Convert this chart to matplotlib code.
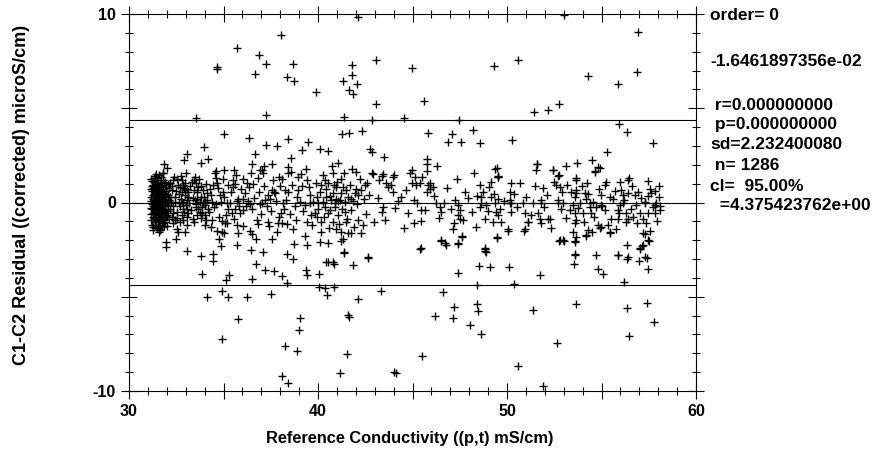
import matplotlib
matplotlib.use("Agg")
import matplotlib.pyplot as plt
from matplotlib.ticker import MultipleLocator, FuncFormatter

# ---------------- data ----------------
# dense cluster near 31-32 mS/cm
cluster_pts = [
    (31.20, 0.85), (31.25, 0.40), (31.22, -0.10), (31.28, -0.55), (31.18, -0.95), (31.30, 1.10),
    (31.35, 0.65), (31.33, 0.15), (31.38, -0.30), (31.32, -0.80), (31.40, -1.20), (31.42, 0.95),
    (31.45, 0.30), (31.48, -0.05), (31.44, -0.65), (31.50, 1.30), (31.52, 0.55), (31.55, 0.05),
    (31.58, -0.40), (31.53, -1.00), (31.60, 0.80), (31.62, 0.20), (31.65, -0.25), (31.63, -0.75),
    (31.68, 1.05), (31.70, 0.45), (31.72, -0.15), (31.75, -0.55), (31.78, -1.10), (31.80, 0.70),
    (31.82, 0.10), (31.85, -0.35), (31.88, 0.95), (31.90, 0.35), (31.92, -0.20), (31.95, -0.70),
    (31.98, 0.60), (32.02, 0.00), (32.05, -0.45), (31.24, 0.60), (31.27, 0.20), (31.21, -0.35),
    (31.26, -0.75), (31.36, 0.90), (31.31, 0.45), (31.37, 0.00), (31.34, -0.55), (31.39, -0.95),
    (31.46, 0.70), (31.43, 0.10), (31.47, -0.25), (31.41, -0.85), (31.56, 1.00), (31.54, 0.35),
    (31.57, -0.20), (31.51, -0.60), (31.59, -1.25), (31.66, 0.60), (31.61, 0.00), (31.67, -0.45),
    (31.64, -1.00), (31.74, 0.85), (31.71, 0.25), (31.77, -0.30), (31.73, -0.85), (31.84, 0.50),
    (31.81, -0.05), (31.87, -0.50), (31.83, -0.95), (31.94, 0.15), (31.91, -0.40), (31.97, 0.80),
    (32.08, 0.40), (32.06, -0.15), (31.19, 0.10), (31.23, 1.15), (31.29, -1.30), (31.49, -1.35),
    (31.69, 1.35), (31.79, 1.20), (31.58, 1.45), (31.38, 1.40), (31.85, -1.25), (31.62, -1.45),
    (31.16, 0.30), (31.17, -0.60), (31.30, 0.05), (31.50, 0.15), (31.60, -0.10), (31.70, 0.05),
    (31.40, 0.50), (31.45, -0.45), (31.55, 0.70), (31.75, 0.30), (31.65, 0.35), (31.35, -0.15),
    (31.18, 1.25), (31.21, -1.20), (31.26, 0.95), (31.29, -0.20), (31.33, 1.30), (31.36, -1.05),
    (31.39, 0.35), (31.43, -0.50), (31.47, 1.10), (31.52, -0.30), (31.57, 0.45), (31.61, -0.80),
    (31.66, 0.95), (31.69, -0.60), (31.73, 0.55), (31.77, -1.30), (31.81, 0.35), (31.86, -0.75),
    (31.89, 1.10), (31.93, -1.05), (31.96, 0.45), (32.00, -0.65), (32.04, 1.00), (32.10, -0.90),
    (31.28, 0.75), (31.48, 0.85), (31.68, -0.20), (31.88, 0.20), (31.58, -1.55), (31.78, 1.55),
    (31.25, -1.45), (31.44, 1.50), (31.15, -0.30), (31.15, 0.70), (32.12, 0.15), (32.09, 0.75),
    (31.99, -1.25), (31.54, -0.85), (31.64, 0.70), (31.74, -0.05),
]

# central band, 32-40 mS/cm
band_low_pts = [
    (32.40, 1.36), (32.52, 1.27), (33.49, 1.36), (33.46, 1.22), (32.96, 1.01), (34.55, 1.57),
    (34.64, 1.04), (35.49, 1.18), (35.61, 0.97), (35.52, 0.83), (36.05, 1.27), (36.46, 1.54),
    (36.84, 1.31), (37.13, 0.87), (36.26, 1.01), (36.58, 0.96), (36.93, 1.72), (37.07, 1.57),
    (37.94, 1.36), (38.08, 1.27), (38.43, 1.54), (38.56, 1.63), (38.96, 1.36), (39.08, 1.49),
    (39.44, 1.22), (37.55, 0.65), (37.73, 0.48), (38.26, 0.65), (38.43, 0.57), (38.96, 0.65),
    (38.91, 0.27), (39.58, 0.39), (39.93, 0.30), (39.31, -0.12), (39.58, -0.04), (36.93, -0.09),
    (37.02, 0.00), (37.20, 0.12), (37.46, 0.21), (37.67, 0.57), (34.99, 0.57), (34.82, 0.39),
    (34.34, 0.39), (34.46, 0.92), (35.17, 0.00), (35.70, 0.06), (35.79, 0.21), (36.05, 0.21),
    (36.14, 0.48), (36.28, 0.06), (36.40, -0.07), (35.61, -0.32), (35.87, -0.58), (36.05, -0.41),
    (35.43, -0.58), (35.26, -0.32), (34.78, -0.76), (34.90, -0.97), (35.08, -1.11), (34.68, -1.52),
    (34.90, -1.56), (35.03, -1.64), (35.17, -1.11), (35.73, -1.20), (35.79, -1.61), (36.40, -1.50),
    (36.49, -1.68), (36.76, -0.94), (36.84, -1.15), (37.37, -1.03), (37.41, -1.24), (37.55, -1.91),
    (37.90, -1.11), (38.08, -1.11), (38.34, -1.15), (38.70, -1.43), (38.04, -0.58), (37.94, -0.76),
    (38.22, -0.32), (39.40, -1.03), (39.67, -1.20), (39.93, -0.76), (39.84, -0.58), (40.02, -0.32),
    (39.31, -1.79), (33.46, -1.03), (34.02, -1.20), (33.58, -0.67), (34.38, -0.94), (34.20, -0.32),
    (32.35, -1.11), (32.52, -1.38), (32.61, -1.56), (32.96, -1.56), (33.85, -0.23), (34.02, 0.04),
    (33.81, 0.30), (33.58, 0.57), (33.93, 0.65), (33.67, 0.83), (34.11, 0.48), (33.76, -0.49),
    (34.02, -0.67), (33.53, -0.23), (33.49, 0.14), (33.93, -0.04), (32.79, 1.18), (32.88, 0.92),
    (33.05, 0.74), (32.79, 0.57), (32.96, 0.39), (32.75, 0.21), (33.05, 0.12), (32.88, -0.04),
    (32.70, -0.21), (33.05, -0.32), (32.93, -0.49), (32.79, -0.67), (33.05, -0.76), (32.88, -0.94),
    (33.14, -0.58), (32.96, 0.65), (33.14, 0.30), (32.70, 0.83), (32.17, 1.01), (32.26, 0.65),
    (32.44, 0.30), (32.22, 0.04), (32.35, -0.21), (32.52, -0.49), (32.26, -0.76), (32.44, -0.94),
    (32.17, 0.30), (32.35, 1.18), (31.55, -1.20), (31.64, -1.38), (31.47, 1.19), (31.82, 1.57),
    (32.15, -0.35), (32.28, 0.85), (32.33, -0.55), (32.41, 0.05), (32.48, 0.62), (32.55, -0.80),
    (32.58, 0.95), (32.63, -0.05), (32.66, 0.45), (32.72, -1.05), (32.76, 1.40), (32.82, 0.02),
    (32.85, -0.35), (32.91, 0.78), (32.99, -0.15), (33.02, 1.55), (33.09, -1.20), (33.12, 0.55),
    (33.18, -0.05), (33.22, 0.90), (33.27, -0.40), (33.31, 1.10), (33.36, 0.22), (33.40, -0.85),
    (33.44, 0.65), (33.52, -0.10), (33.55, 1.05), (33.62, 0.20), (33.66, -0.35), (33.71, 1.25),
    (33.74, 0.05), (33.79, -0.80), (33.83, 0.85), (33.88, -0.55), (33.96, 0.30), (34.00, -0.15),
    (34.06, 1.00), (34.09, -0.95), (34.15, 0.15), (34.25, -0.50), (34.29, 0.70), (34.36, -1.30),
    (34.41, 0.05), (34.50, -0.25), (34.58, 1.30), (34.62, -0.10), (34.71, 0.75), (34.75, -1.95),
    (34.86, 0.05), (34.95, 1.25), (35.05, 0.30), (35.12, -0.65), (35.22, 0.95), (35.35, -0.05),
    (35.40, 0.55), (35.55, -0.90), (35.66, 1.45), (35.83, -0.20), (35.95, 0.70), (36.02, -1.25),
    (36.18, -0.20), (36.33, 0.80), (36.52, -0.35), (36.62, 0.25), (36.70, -1.95), (36.88, 0.55),
    (37.00, -0.60), (37.15, 1.95), (37.28, -0.20), (37.33, 0.40), (37.50, -0.45), (37.62, 1.20),
    (37.80, 0.10), (37.85, -1.55), (38.00, 0.85), (38.15, -0.05), (38.30, 0.15), (38.50, -0.60),
    (38.62, 0.95), (38.80, -0.20), (38.85, -0.95), (39.05, 0.05), (39.15, 0.85), (39.22, -0.45),
    (39.50, 0.80), (39.62, -0.65), (39.75, 0.05), (39.88, 1.05),
]

# central band, 40-50 mS/cm
band_mid_pts = [
    (40.00, -0.04), (40.26, 0.04), (40.35, -0.23), (40.62, -0.41), (40.88, -0.04), (40.97, 0.21),
    (40.79, 0.48), (41.23, 0.48), (41.32, 0.83), (41.50, 0.65), (41.59, 0.30), (41.76, 0.21),
    (40.97, 0.83), (40.53, 1.01), (40.35, 1.18), (40.18, 0.92), (40.26, 1.45), (40.79, 1.54),
    (41.23, 1.27), (40.71, 0.12), (41.06, 0.06), (41.41, -0.49), (41.50, -1.03), (41.06, -0.67),
    (40.79, -1.03), (40.18, -1.03), (40.97, -1.38), (41.23, -1.56), (41.59, -1.64), (41.76, -1.61),
    (42.29, -1.64), (42.38, -1.20), (42.12, -0.94), (41.32, -1.91), (40.18, -1.56), (40.09, -2.09),
    (40.53, -0.58), (40.44, 0.30), (41.94, 0.48), (42.12, 0.39), (42.29, 0.65), (42.47, 0.92),
    (42.59, 1.04), (42.86, 1.57), (43.44, 1.49), (44.02, 1.45), (45.52, 1.36), (43.62, 1.01),
    (43.70, 0.83), (43.97, 0.57), (44.23, 0.06), (44.67, 0.65), (44.99, 1.01), (45.20, 0.92),
    (45.38, 1.04), (45.11, 1.36), (45.82, 0.92), (45.91, 0.74), (46.08, 0.80), (45.77, 0.57),
    (47.76, 0.57), (48.55, 0.95), (49.17, 1.10), (49.52, 1.41), (48.43, 0.35), (48.64, 0.30),
    (49.17, 0.30), (49.52, 0.21), (49.35, -0.04), (49.61, -0.32), (49.44, -0.49), (49.52, -0.67),
    (49.26, -1.03), (48.82, -0.85), (48.55, -0.23), (48.64, -0.04), (48.91, -0.14), (50.14, 0.57),
    (50.14, -0.04), (45.08, 0.14), (43.44, -0.23), (43.40, -0.49), (44.76, -0.58), (45.47, -0.41),
    (45.43, -0.97), (45.06, -1.11), (46.40, -0.80), (46.26, -0.04), (46.47, -0.23), (46.53, -0.49),
    (47.23, 0.12), (47.41, -0.12), (47.50, -0.41), (47.41, -0.67), (47.50, -0.85), (47.20, -1.11),
    (47.14, -1.43), (47.62, -1.79), (46.53, -1.99), (46.70, -2.17), (47.41, -2.17), (49.47, -1.82),
    (50.05, -1.43), (45.43, -2.42), (41.38, -2.60), (42.65, -2.88), (40.53, -3.13), (40.79, -3.13),
    (40.53, -2.17), (41.23, -2.03), (48.82, -2.44), (48.91, -2.62),
    (40.12, 0.55), (40.30, -0.75), (40.42, 0.70), (40.58, -1.35), (40.66, 0.35), (40.84, 0.95),
    (40.92, -0.25), (41.02, 1.10), (41.12, -1.15), (41.18, 0.15), (41.28, -0.35), (41.38, 1.55),
    (41.45, 0.05), (41.55, -0.85), (41.68, 0.95), (41.72, -0.40), (41.85, 0.10), (41.90, -1.30),
    (42.00, 0.70), (42.05, -0.10), (42.20, 1.25), (42.42, 0.20), (42.55, -0.60), (42.72, 0.40),
    (42.95, -1.05), (43.15, 0.25), (43.25, 1.20), (43.55, -0.95), (43.85, 0.95), (44.10, -0.30),
    (44.40, 0.30), (44.55, -1.35), (44.85, 1.55), (45.25, -0.05), (45.65, -0.40), (45.95, 1.05),
    (46.15, 0.35), (46.65, -0.05), (46.85, 0.75), (47.05, -0.35), (47.35, 1.25), (47.68, -0.95),
    (47.95, 0.25), (48.15, -0.50), (48.25, 1.55), (48.35, -1.30), (48.75, 0.55), (49.00, -0.45),
    (49.05, 0.80), (49.30, 0.45), (49.70, -1.05), (49.85, 0.10),
]

# central band, 50-58 mS/cm
band_high_pts = [
    (50.23, 1.04), (51.90, 0.78), (52.61, 0.92), (52.78, 0.83), (53.40, 0.57), (53.67, 0.48),
    (53.58, 0.30), (54.11, 0.51), (53.67, 0.65), (54.19, 0.21), (54.99, 0.39), (55.43, 0.30),
    (55.61, 0.21), (56.05, 0.65), (56.13, 0.39), (56.40, 0.48), (56.93, 0.57), (56.75, 0.39),
    (57.55, 0.74), (57.63, 0.48), (57.28, 0.05), (58.04, 0.30), (50.23, -0.04), (50.14, 0.14),
    (50.84, -0.04), (51.37, -0.04), (51.81, 0.14), (51.81, -0.04), (52.70, 0.14), (52.70, -0.04),
    (52.96, -0.04), (53.49, -0.12), (53.84, -0.04), (54.37, -0.04), (54.55, 0.05), (54.99, -0.12),
    (55.96, -0.12), (56.13, -0.04), (56.84, -0.12), (57.28, -0.04), (57.81, -0.12), (57.90, 0.00),
    (50.23, -0.49), (50.93, -0.58), (51.11, -1.03), (50.93, -1.43), (51.64, -0.58), (51.73, -0.85),
    (52.17, -0.85), (51.81, -1.11), (52.87, -0.32), (53.31, -0.41), (53.58, -0.58), (53.67, -0.94),
    (54.02, -0.58), (54.46, -0.58), (54.37, -0.23), (54.72, -0.23), (55.16, -0.41), (55.87, -0.41),
    (56.31, -0.58), (56.40, -0.85), (56.31, -1.03), (56.66, -0.76), (57.02, -0.58), (57.46, -0.58),
    (57.81, -0.58), (58.07, -0.41), (55.87, -0.85), (55.34, -1.20), (54.99, -1.29), (54.81, -1.20),
    (55.43, -1.56), (55.78, -1.43), (54.28, -1.47), (54.19, -1.73), (53.58, -1.11), (53.49, -1.56),
    (53.67, -1.82), (53.58, -2.09), (52.96, -2.00), (52.78, -2.00), (57.37, -1.11), (57.19, -1.64),
    (57.55, -1.50), (57.46, -2.00), (57.02, -2.44), (57.19, -2.26), (53.58, -2.71), (55.87, -2.79),
    (56.40, -2.88), (57.28, -2.88), (51.58, 2.03), (54.81, 1.89), (54.67, 1.66), (52.43, 1.75),
    (52.73, 1.45), (53.67, 1.31), (54.23, 1.04), (55.25, 1.10), (55.96, 1.10), (56.43, 1.31),
    (57.46, 1.13), (58.02, 0.87),
    (50.35, 0.45), (50.55, -0.25), (50.70, 1.05), (51.00, 0.30), (51.25, -0.65), (51.50, 0.85),
    (51.95, -0.25), (52.10, 0.40), (52.35, -1.35), (52.50, 1.10), (52.90, 0.55), (53.10, -0.80),
    (53.20, 0.95), (53.75, -0.30), (53.95, 0.85), (54.05, -1.05), (54.30, 0.45), (54.60, -0.75),
    (54.85, 0.70), (55.05, -0.20), (55.20, 0.95), (55.50, -0.85), (55.70, 0.60), (55.95, -0.55),
    (56.20, 0.15), (56.55, -0.35), (56.60, 0.90), (56.90, -1.10), (57.10, 0.25), (57.20, -0.85),
    (57.45, 0.35), (57.70, -0.25), (57.85, 0.60), (57.95, -1.00), (58.10, -0.20),
]

# scattered points above the band
upper_pts = [
    (38.04, 8.91), (35.70, 8.21), (36.88, 7.82), (37.23, 7.37), (38.69, 7.36), (34.64, 7.18),
    (34.64, 7.06), (36.67, 6.83), (38.34, 6.65), (38.73, 6.47), (33.53, 4.49), (37.23, 4.63),
    (35.03, 3.61), (36.35, 3.43), (38.40, 3.38), (37.25, 3.04), (37.85, 3.02), (39.49, 3.20),
    (33.05, 2.55), (32.93, 2.25), (33.98, 2.95), (34.20, 2.30), (33.79, 2.11), (36.67, 2.58),
    (39.14, 2.78), (38.57, 2.37), (31.85, 2.05), (31.99, 1.84), (36.49, 2.02), (37.55, 2.05),
    (34.58, 1.66), (35.01, 1.75), (35.57, 1.75), (37.02, 1.71), (38.43, 1.89), (39.35, 1.79),
    (42.10, 9.83), (43.07, 7.55), (41.78, 7.32), (44.96, 7.12), (49.31, 7.25), (41.82, 6.75),
    (41.31, 6.45), (42.05, 6.26), (41.64, 5.99), (41.83, 5.77), (39.89, 5.85), (43.05, 5.25),
    (45.59, 5.37), (41.36, 4.55), (42.87, 4.40), (44.55, 4.49), (47.46, 4.37), (41.25, 3.64),
    (41.64, 3.68), (42.35, 3.77), (45.83, 3.71), (47.07, 3.66), (48.18, 3.84), (46.86, 3.20),
    (47.57, 3.20), (48.57, 3.17), (40.11, 2.85), (40.55, 2.72), (42.75, 2.86), (42.87, 2.69),
    (43.49, 2.42), (45.78, 2.33), (45.78, 2.02), (46.28, 1.93), (40.72, 1.96), (41.07, 2.11),
    (41.78, 1.79), (41.99, 1.61), (44.99, 1.75), (49.37, 1.80), (42.93, 1.52), (43.40, 1.40),
    (43.98, 1.36), (45.78, 1.66), (49.51, 1.36), (53.02, 9.97), (56.95, 9.03), (50.60, 7.55),
    (54.30, 6.70), (56.89, 6.93), (55.89, 6.30), (52.75, 5.20), (52.15, 4.90), (51.43, 4.79),
    (55.93, 4.17), (56.37, 3.75), (57.74, 3.13), (50.25, 3.34), (55.27, 2.67), (54.48, 2.25),
    (53.69, 2.07), (53.12, 1.93), (51.57, 2.02), (51.53, 1.75), (52.45, 1.71), (52.71, 1.40),
    (54.66, 1.63), (54.92, 1.84), (53.65, 1.22), (56.42, 1.22), (49.46, 1.84), (49.54, 1.36),
]

# scattered points below the band
lower_pts = [
    (31.94, -2.10), (31.94, -2.37), (32.49, -1.93), (33.05, -2.58), (33.81, -2.85), (34.43, -3.11),
    (34.46, -2.71), (33.85, -3.77), (34.85, -2.32), (35.70, -2.28), (36.44, -2.53), (37.07, -2.64),
    (36.74, -3.25), (37.20, -3.59), (37.67, -3.64), (38.08, -3.91), (38.34, -4.26), (38.38, -2.72),
    (38.69, -2.99), (38.75, -2.18), (39.43, -2.23), (39.35, -3.59), (39.40, -3.82), (35.29, -3.87),
    (35.13, -4.12), (36.49, -4.08), (34.90, -4.70), (34.14, -5.02), (35.25, -5.00), (36.26, -5.00),
    (37.49, -4.88), (35.78, -6.17), (39.05, -6.15), (39.01, -6.77), (34.94, -7.23), (38.25, -7.62),
    (38.87, -7.89), (38.08, -9.21), (38.40, -9.60), (40.05, -3.77), (40.05, -4.49), (40.37, -4.53),
    (40.86, -4.47), (40.49, -4.92), (42.10, -5.11), (43.33, -4.70), (46.63, -4.74), (48.39, -4.39),
    (48.39, -5.37), (48.48, -5.73), (47.21, -5.55), (47.16, -6.12), (46.19, -6.03), (48.04, -6.51),
    (48.62, -6.97), (41.57, -5.98), (41.64, -6.07), (41.52, -8.03), (45.52, -8.12), (41.16, -9.07),
    (44.04, -8.98), (44.11, -9.04), (42.66, -2.94), (41.83, -3.29), (40.86, -3.25), (40.41, -3.17),
    (41.36, -2.67), (45.40, -2.49), (47.39, -3.73), (48.53, -3.38), (49.10, -3.41), (48.84, -2.58),
    (48.86, -2.49), (46.49, -2.05), (46.75, -2.23), (47.42, -2.19), (47.60, -1.84), (49.46, -1.87),
    (50.12, -3.43), (50.37, -4.35), (51.75, -3.86), (51.39, -5.71), (53.65, -5.37), (52.63, -7.44),
    (50.57, -8.68), (51.88, -9.74), (56.19, -4.23), (56.33, -5.59), (57.39, -5.32), (57.79, -6.33),
    (56.46, -7.06), (53.54, -3.24), (53.60, -2.76), (54.71, -2.76), (54.83, -3.52), (55.10, -3.77),
    (55.89, -2.81), (56.37, -2.99), (56.33, -2.23), (56.98, -3.11), (57.39, -2.93), (57.44, -3.55),
    (57.04, -2.49), (57.13, -2.32), (57.30, -1.66), (57.53, -2.05), (52.77, -2.05), (53.04, -2.05),
    (53.60, -2.05), (54.18, -1.79), (54.48, -1.57), (54.92, -1.34), (55.45, -1.61), (50.07, -1.49),
    (50.92, -1.49), (51.13, -1.04), (52.28, -0.90),
]

# fit statistics shown at the right
mean_offset = -1.6461897356e-02
conf_limit = 4.375423762
stat_lines = [
    "order= 0",
    "-1.6461897356e-02",
    " r=0.000000000",
    " p=0.000000000",
    "sd=2.232400080",
    " n= 1286",
    "cl=  95.00%",
    "  =4.375423762e+00",
]
stat_rows_px = [15, 62, 106, 125, 145, 165, 186, 205]

x_label = "Reference Conductivity ((p,t) mS/cm)"
y_label = "C1-C2 Residual ((corrected) microS/cm)"

# ---------------- drawing ----------------
plt.rcParams['font.family'] = ['Liberation Sans', 'DejaVu Sans']
plt.rcParams['font.weight'] = 'bold'

W, H = 880, 454
fig = plt.figure(figsize=(W / 100, H / 100), dpi=100)
ax = fig.add_axes([129 / W, 63 / H, 567 / W, 377 / H])

all_pts = cluster_pts + band_low_pts + band_mid_pts + band_high_pts + upper_pts + lower_pts
xs = [p[0] for p in all_pts]
ys = [p[1] for p in all_pts]

ax.plot(xs, ys, linestyle='none', marker='+', ms=6.0, mew=1.0, color='black')

for yv in (mean_offset, mean_offset + conf_limit, mean_offset - conf_limit):
    ax.axhline(yv, color='black', lw=0.8)

ax.set_xlim(30, 60)
ax.set_ylim(-10, 10)

ax.xaxis.set_major_locator(MultipleLocator(5))
ax.xaxis.set_minor_locator(MultipleLocator(1))
ax.yaxis.set_major_locator(MultipleLocator(5))
ax.yaxis.set_minor_locator(MultipleLocator(1))
fmt = FuncFormatter(lambda v, p: f"{v:.0f}" if abs(v % 10) < 1e-9 else "")
ax.xaxis.set_major_formatter(fmt)
ax.yaxis.set_major_formatter(fmt)

ax.tick_params(which='both', direction='inout', top=True, right=True,
               labeltop=False, labelright=False, width=0.8, color='black')
ax.tick_params(which='major', length=11, labelsize=11.5, pad=4)
ax.tick_params(which='minor', length=6)
for lab in ax.get_xticklabels() + ax.get_yticklabels():
    lab.set_fontweight('bold')
for sp in ax.spines.values():
    sp.set_linewidth(0.8)

fig.text(410 / W, 1 - 439 / H, x_label, ha='center', va='center', fontsize=11.8, fontweight='bold')
fig.text(22 / W, 1 - 195 / H, y_label, ha='center', va='center', rotation=90,
         fontsize=13, fontweight='bold')

for s, py in zip(stat_lines, stat_rows_px):
    fig.text(710 / W, 1 - py / H, s, ha='left', va='center', fontsize=12.5, fontweight='bold')

fig.savefig("out.png", dpi=100)
